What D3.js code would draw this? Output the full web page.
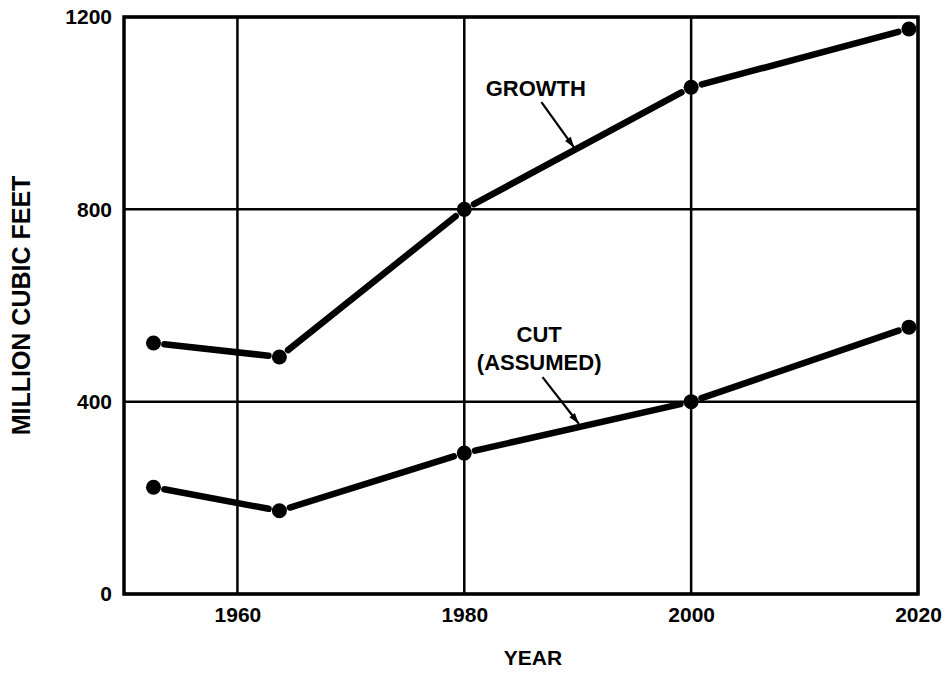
<!DOCTYPE html>
<html>
<head>
<meta charset="utf-8">
<script src="https://cdn.jsdelivr.net/npm/d3@7"></script>
<style>
  html, body { margin: 0; padding: 0; background: #fff; }
  svg { display: block; }
  text { font-family: "Liberation Sans", Arial, sans-serif; fill: #000; }
</style>
</head>
<body>
<div id="chart"></div>
<script>
// Timber volumes, million cubic feet
const years  = [1952.6, 1963.7, 1980, 2000, 2019.2];
const growth = [522, 493, 800, 1054, 1175];
const cut    = [222, 173, 293, 400, 555];

const xTicks = [1960, 1980, 2000, 2020];
const yTicks = [0, 400, 800, 1200];

const W = 948, H = 693;
const svg = d3.select("#chart").append("svg").attr("width", W).attr("height", H);

const x = d3.scaleLinear().domain([1950, 2020]).range([124, 918]);
const y = d3.scaleLinear().domain([0, 1200]).range([594, 17]);

// grid
const grid = svg.append("g");
grid.selectAll(".vg").data(xTicks).join("line")
  .attr("x1", d => x(d)).attr("x2", d => x(d))
  .attr("y1", y(0)).attr("y2", y(1200))
  .attr("stroke", "#000").attr("stroke-width", 2.5);
grid.selectAll(".hg").data(yTicks).join("line")
  .attr("x1", x(1950)).attr("x2", x(2020))
  .attr("y1", d => y(d)).attr("y2", d => y(d))
  .attr("stroke", "#000").attr("stroke-width", 2.5);

// frame
svg.append("rect")
  .attr("x", x(1950)).attr("y", y(1200))
  .attr("width", x(2020) - x(1950)).attr("height", y(0) - y(1200))
  .attr("fill", "none").attr("stroke", "#000").attr("stroke-width", 3.5);

// axes (labels only; frame and grid drawn above)
const xAxis = d3.axisBottom(x).tickValues(xTicks).tickFormat(d3.format("d")).tickSize(0).tickPadding(10);
const gx = svg.append("g").attr("transform", `translate(0,${y(0)})`).call(xAxis);
gx.select(".domain").remove();
gx.selectAll("text").style("font-size", "21px").style("font-weight", "bold")
  .style("font-family", "'Liberation Sans', Arial, sans-serif").attr("dy", "0.85em");

const yAxis = d3.axisLeft(y).tickValues(yTicks).tickFormat(d3.format("d")).tickSize(0).tickPadding(12);
const gy = svg.append("g").attr("transform", `translate(${x(1950)},0)`).call(yAxis);
gy.select(".domain").remove();
gy.selectAll("text").style("font-size", "21px").style("font-weight", "bold")
  .style("font-family", "'Liberation Sans', Arial, sans-serif");

// axis titles
svg.append("text")
  .attr("transform", `translate(30,${(y(0) + y(1200)) / 2}) rotate(-90)`)
  .attr("text-anchor", "middle")
  .style("font-size", "25px").style("font-weight", "bold")
  .text("MILLION CUBIC FEET");
svg.append("text")
  .attr("x", 533).attr("y", 665)
  .attr("text-anchor", "middle")
  .style("font-size", "21px").style("font-weight", "bold")
  .text("YEAR");

// series: thick segments that stop short of each dot
const GAP = 11;
function drawSeries(vals) {
  const pts = years.map((yr, i) => [x(yr), y(vals[i])]);
  const segs = d3.pairs(pts);
  const g = svg.append("g");
  g.selectAll("line").data(segs).join("line")
    .each(function ([a, b]) {
      const dx = b[0] - a[0], dy = b[1] - a[1];
      const len = Math.hypot(dx, dy);
      const ux = dx / len, uy = dy / len;
      d3.select(this)
        .attr("x1", a[0] + ux * GAP).attr("y1", a[1] + uy * GAP)
        .attr("x2", b[0] - ux * GAP).attr("y2", b[1] - uy * GAP);
    })
    .attr("stroke", "#000").attr("stroke-width", 6.5).attr("stroke-linecap", "round");
  g.selectAll("circle").data(pts).join("circle")
    .attr("cx", d => d[0]).attr("cy", d => d[1]).attr("r", 7.5).attr("fill", "#000");
}
drawSeries(growth);
drawSeries(cut);

// labels with pointer arrows
function arrow(x1, y1, x2, y2) {
  const a = [x(x1), y(y1)], b = [x(x2), y(y2)];
  svg.append("line")
    .attr("x1", a[0]).attr("y1", a[1]).attr("x2", b[0]).attr("y2", b[1])
    .attr("stroke", "#000").attr("stroke-width", 2.2);
  const ang = Math.atan2(b[1] - a[1], b[0] - a[0]);
  const L = 11, Wd = 3.5;
  const bx = b[0] - Math.cos(ang) * L, by = b[1] - Math.sin(ang) * L;
  const nx = -Math.sin(ang) * Wd, ny = Math.cos(ang) * Wd;
  svg.append("path")
    .attr("d", `M${b[0]},${b[1]}L${bx + nx},${by + ny}L${bx - nx},${by - ny}Z`)
    .attr("fill", "#000");
}

const labelSize = "22px";
svg.append("text").attr("x", x(1986.3)).attr("y", y(1036))
  .attr("text-anchor", "middle").style("font-size", labelSize).style("font-weight", "bold")
  .text("GROWTH");
arrow(1986.8, 1023, 1989.7, 928);

svg.append("text").attr("x", x(1986.6)).attr("y", y(524))
  .attr("text-anchor", "middle").style("font-size", labelSize).style("font-weight", "bold")
  .text("CUT");
svg.append("text").attr("x", x(1986.6)).attr("y", y(466))
  .attr("text-anchor", "middle").style("font-size", labelSize).style("font-weight", "bold")
  .text("(ASSUMED)");
arrow(1986.9, 451, 1990.1, 354);
</script>
</body>
</html>
